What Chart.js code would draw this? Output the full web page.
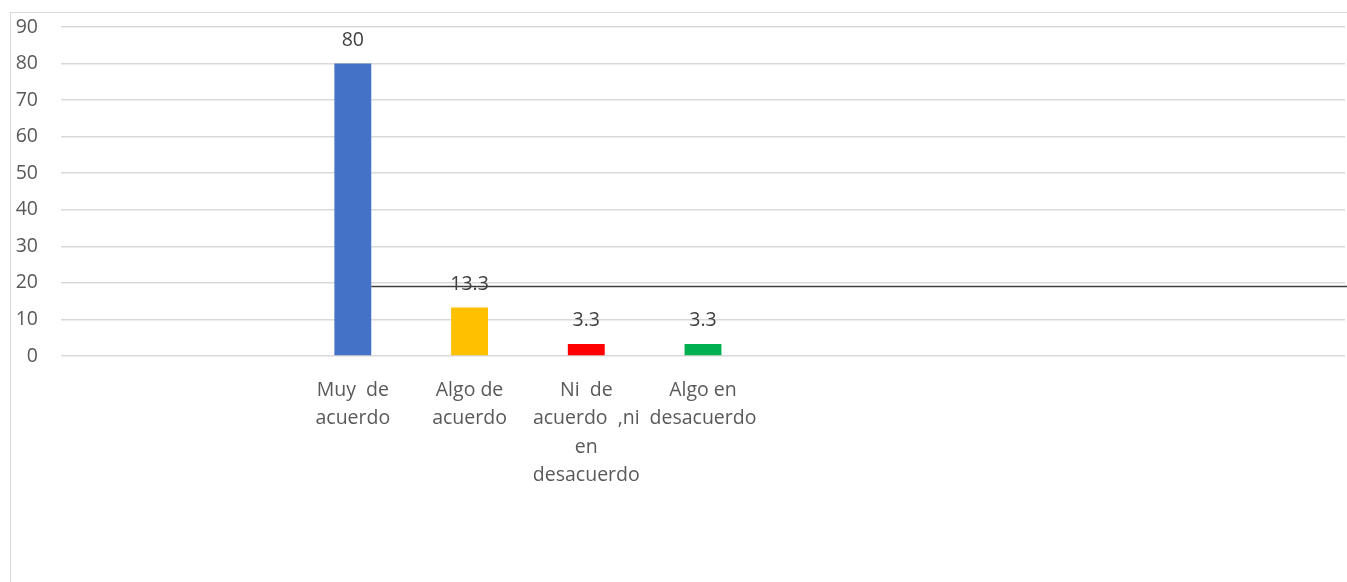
<!DOCTYPE html>
<html>
<head>
<meta charset="utf-8">
<script src="https://cdn.jsdelivr.net/npm/chart.js@4/dist/chart.umd.min.js"></script>
<style>
  html, body { margin: 0; padding: 0; background: #fff; }
  #wrap { position: relative; width: 1347px; height: 582px; overflow: hidden; }
  #frame { position: absolute; left: 10px; top: 12px; width: 1400px; height: 600px;
           border-left: 1.5px solid #d9d9d9; border-top: 1.5px solid #d9d9d9; }
  canvas { position: absolute; left: 0; top: 0; }
</style>
</head>
<body>
<div id="wrap">
  <div id="frame"></div>
  <canvas id="c" width="1347" height="582"></canvas>
</div>
<script>
const categories = [
  '', '',
  ['Muy  de', 'acuerdo'],
  ['Algo de', 'acuerdo'],
  ['Ni  de', 'acuerdo  ,ni', 'en', 'desacuerdo'],
  ['Algo en', 'desacuerdo'],
  '', '', '', '', ''
];
const values = [null, null, 80, 13.3, 3.3, 3.3, null, null, null, null, null];
const barColors = ['#4472C4', '#4472C4', '#4472C4', '#FFC000', '#FF0000', '#00B050',
                   '#4472C4', '#4472C4', '#4472C4', '#4472C4', '#4472C4'];
const yTicks = [0, 10, 20, 30, 40, 50, 60, 70, 80, 90];
const refLine = [19];           // horizontal reference line value
const refLineStartIndex = [2];  // starts at the right edge of this bar

const FONT = '"Open Sans", "Noto Sans", sans-serif';
const TEXT = '#595959';

const valueLabels = {
  id: 'valueLabels',
  afterDatasetsDraw(chart) {
    const ctx = chart.ctx;
    const meta = chart.getDatasetMeta(0);
    ctx.save();
    ctx.fillStyle = '#404040';
    ctx.font = '19.5px ' + FONT;
    ctx.textAlign = 'center';
    ctx.textBaseline = 'middle';
    meta.data.forEach((bar, i) => {
      const v = values[i];
      if (v === null || v === undefined) return;
      ctx.fillText(String(v), bar.x, bar.y - 23);
    });
    ctx.restore();
  }
};

const refLinePlugin = {
  id: 'refLinePlugin',
  afterDatasetsDraw(chart) {
    const ctx = chart.ctx;
    const y = chart.scales.y.getPixelForValue(refLine[0]);
    const bar = chart.getDatasetMeta(0).data[refLineStartIndex[0]];
    const x0 = bar.x + bar.width / 2;
    ctx.save();
    ctx.strokeStyle = '#404040';
    ctx.lineWidth = 1.5;
    ctx.beginPath();
    ctx.moveTo(x0, y);
    ctx.lineTo(chart.width, y);
    ctx.stroke();
    ctx.restore();
  }
};

new Chart(document.getElementById('c'), {
  type: 'bar',
  data: {
    labels: categories,
    datasets: [{
      data: values,
      backgroundColor: barColors,
      barPercentage: 0.316,
      categoryPercentage: 1.0
    }]
  },
  options: {
    responsive: false,
    animation: false,
    devicePixelRatio: 1,
    layout: { padding: { top: 27, right: 2, left: 0, bottom: 0 } },
    plugins: { legend: { display: false }, tooltip: { enabled: false } },
    scales: {
      x: {
        grid: { display: false, drawTicks: false },
        border: { display: false },
        ticks: {
          color: TEXT,
          font: { family: FONT, size: 19.5, lineHeight: 1.46 },
          padding: 20,
          maxRotation: 0,
          minRotation: 0,
          autoSkip: false
        },
        afterFit(scale) { scale.height = 226; }
      },
      y: {
        min: 0,
        max: 90,
        afterBuildTicks(scale) { scale.ticks = yTicks.map(v => ({ value: v })); },
        grid: { color: '#d9d9d9', lineWidth: 1.5, drawTicks: false },
        border: { display: false },
        ticks: {
          color: TEXT,
          font: { family: FONT, size: 19.5 },
          padding: 23
        },
        afterFit(scale) { scale.width = 61; scale.paddingTop = 0; scale.paddingBottom = 0; }
      }
    }
  },
  plugins: [valueLabels, refLinePlugin]
});
</script>
</body>
</html>
